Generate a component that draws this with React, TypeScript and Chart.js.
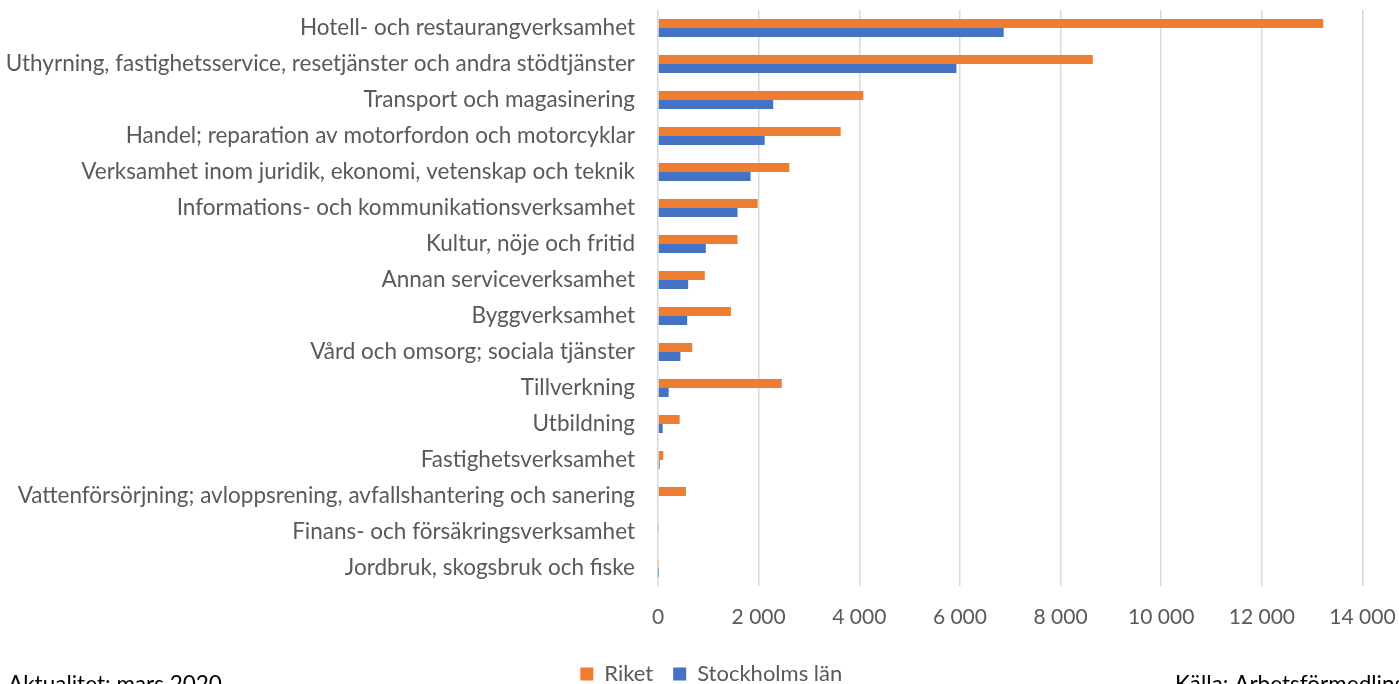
import React, { useEffect, useRef } from "react";
import { Chart, registerables } from "chart.js";

Chart.register(...registerables);

const categories = [
  "Hotell- och restaurangverksamhet",
  "Uthyrning, fastighetsservice, resetjänster och andra stödtjänster",
  "Transport och magasinering",
  "Handel; reparation av motorfordon och motorcyklar",
  "Verksamhet inom juridik, ekonomi, vetenskap och teknik",
  "Informations- och kommunikationsverksamhet",
  "Kultur, nöje och fritid",
  "Annan serviceverksamhet",
  "Byggverksamhet",
  "Vård och omsorg; sociala tjänster",
  "Tillverkning",
  "Utbildning",
  "Fastighetsverksamhet",
  "Vattenförsörjning; avloppsrening, avfallshantering och sanering",
  "Finans- och försäkringsverksamhet",
  "Jordbruk, skogsbruk och fiske",
];

const riket = [13220, 8640, 4080, 3630, 2610, 1980, 1580, 930, 1450, 680, 2460, 430, 105, 555, 10, 8];
const stockholm = [6870, 5930, 2290, 2120, 1840, 1580, 950, 600, 580, 445, 212, 93, 33, 15, 15, 3];

const seriesNames = ["Riket", "Stockholms län"];
const footLeft = "Aktualitet: mars 2020";
const footRight = "Källa: Arbetsförmedlingen";

const FONT = "Lato, 'Open Sans', sans-serif";

const fmt = (v: number) => {
  const s = Math.round(v).toString();
  return s.replace(/\B(?=(\d{3})+(?!\d))/g, " ");
};

export default function App() {
  const ref = useRef<HTMLCanvasElement | null>(null);
  useEffect(() => {
    if (!ref.current) return;
    const footPlugin = {
      id: "foot",
      afterLayout(chart: any) {
        const lg = chart.legend;
        if (lg) {
          lg.left += 30;
          lg.right += 30;
          lg.top += 3;
          lg.bottom += 3;
        }
      },
      afterDraw(chart: any) {
        const ctx = chart.ctx;
        ctx.save();
        ctx.font = `22.5px ${FONT}`;
        ctx.fillStyle = "#000";
        ctx.textBaseline = "alphabetic";
        ctx.textAlign = "left";
        ctx.fillText(footLeft, 8, 692);
        ctx.fillText(footRight, 1175, 692);
        ctx.restore();
      },
    };
    const chart = new Chart(ref.current, {
      type: "bar",
      data: {
        labels: categories,
        datasets: [
          {
            label: seriesNames[0],
            data: riket,
            backgroundColor: "#ED7D31",
            borderWidth: 0,
            categoryPercentage: 0.5,
            barPercentage: 1.0,
          },
          {
            label: seriesNames[1],
            data: stockholm,
            backgroundColor: "#4472C4",
            borderWidth: 0,
            categoryPercentage: 0.5,
            barPercentage: 1.0,
          },
        ],
      },
      options: {
        indexAxis: "y",
        animation: false,
        responsive: false,
        maintainAspectRatio: false,
        layout: { padding: { top: 10, right: 36.5, left: 0, bottom: 8 } },
        scales: {
          x: {
            min: 0,
            max: 14000,
            afterFit: (s: any) => {
              s.height = 54;
              s.paddingLeft = 0;
              s.paddingRight = 0;
            },
            ticks: {
              stepSize: 2000,
              callback: (v: any) => fmt(Number(v)),
              color: "#595959",
              font: { family: FONT, size: 21 },
              padding: 19,
              maxRotation: 0,
            },
            grid: { color: "#d9d9d9", lineWidth: 1.5, drawTicks: false },
            border: { display: false },
          },
          y: {
            afterFit: (s: any) => {
              s.width = 658;
              s.paddingTop = 0;
              s.paddingBottom = 0;
            },
            ticks: {
              color: "#595959",
              font: { family: FONT, size: 22.5 },
              padding: 23,
              autoSkip: false,
            },
            grid: { display: false, drawTicks: false },
            border: { display: false },
          },
        },
        plugins: {
          legend: {
            position: "bottom",
            labels: {
              color: "#595959",
              font: { family: FONT, size: 22 },
              boxWidth: 13,
              boxHeight: 13,
              padding: 20,
            },
          },
          tooltip: { enabled: false },
        },
      },
      plugins: [footPlugin],
    });
    return () => chart.destroy();
  }, []);
  return (
    <div style={{ position: "fixed", left: 0, top: 0, width: 1399, height: 684, overflow: "hidden", background: "#fff" }}>
      <canvas ref={ref} width={1399} height={700} style={{ display: "block", width: 1399, height: 700 }} />
    </div>
  );
}
